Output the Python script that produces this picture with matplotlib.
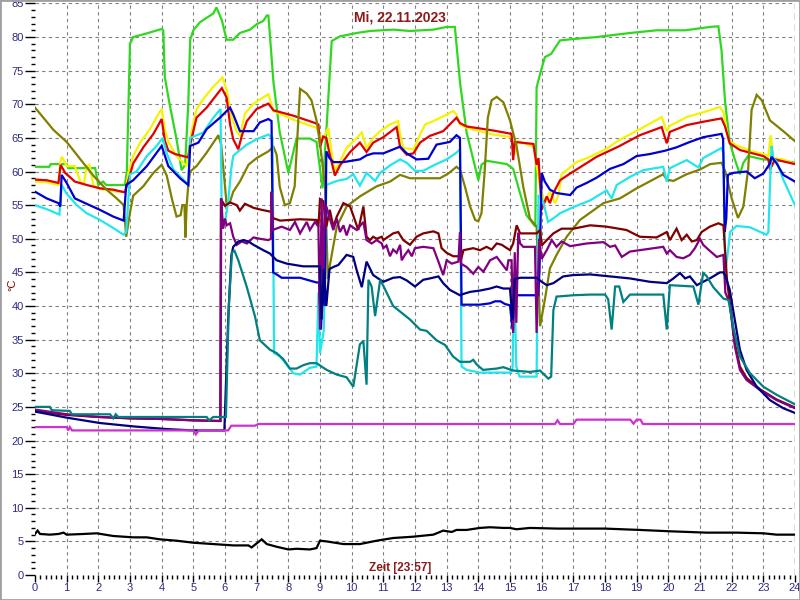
import matplotlib
matplotlib.use("Agg")
import matplotlib.pyplot as plt
from matplotlib.patches import Rectangle
import numpy as np

# (hour, deg C) samples
green = [(0, 60.7), (0.45, 60.7), (0.5, 61.1), (1.0, 61.1), (1.05, 60.5), (1.9, 60.5), (2.0, 58.0), (2.15, 58.5),
         (2.25, 58.0), (2.84, 58.0), (2.9, 60.0), (3.0, 79.0), (3.1, 80.0), (3.5, 80.5), (4.0, 81.2), (4.05, 81.0),
         (4.1, 74.0), (4.26, 69.8), (4.47, 64.8), (4.63, 60.2), (4.74, 61.0), (4.84, 70.0), (4.9, 79.6), (5.0, 81.0),
         (5.21, 82.2), (5.63, 83.5), (5.73, 84.4), (5.9, 82.5), (6.05, 79.6), (6.26, 79.6), (6.47, 80.6), (6.79, 81.1),
         (7.0, 81.9), (7.21, 82.4), (7.32, 83.2), (7.37, 83.2), (7.53, 73.3), (7.73, 65.8), (8.0, 59.8), (8.26, 64.9),
         (8.68, 64.9), (8.89, 64.4), (9.08, 57.5), (9.2, 66.0), (9.37, 79.4), (9.63, 80.1), (10.16, 80.6),
         (10.58, 80.9), (11.31, 81.1), (11.84, 80.9), (12.58, 81.1), (13.0, 81.5), (13.26, 81.5), (13.42, 73.3),
         (13.63, 65.8), (13.84, 61.8), (14.0, 58.7), (14.1, 61.0), (14.26, 61.6), (14.9, 61.1), (15.1, 60.4),
         (15.31, 56.9), (15.52, 53.5), (15.8, 51.8), (15.84, 72.5), (15.95, 74.5), (16.1, 77.0), (16.3, 77.5),
         (16.58, 79.5), (17.0, 79.7), (17.74, 80.0), (18.79, 80.6), (19.63, 81.0), (20.53, 81.0), (21.32, 81.5),
         (21.58, 81.6), (21.68, 78.0), (21.79, 70.5), (21.94, 64.3), (22.1, 61.8), (22.26, 59.6), (22.37, 61.3),
         (22.52, 62.3), (23.0, 61.8), (23.63, 61.6), (24.0, 61.3)]

yellow = [(0, 58.5), (0.37, 58.4), (0.74, 58.0), (0.8, 61.5), (0.85, 62.2), (1.0, 60.8), (1.26, 60.8), (1.45, 58.3),
          (1.55, 58.3), (1.63, 60.8), (1.72, 61.0), (1.84, 58.0), (2.05, 57.4), (2.6, 57.0), (2.86, 57.0), (2.95, 59.8),
          (3.1, 62.3), (3.32, 64.3), (3.63, 66.3), (3.95, 69.0), (4.0, 69.2), (4.1, 66.3), (4.21, 64.4), (4.47, 62.3),
          (4.79, 60.8), (4.9, 65.0), (5.1, 69.2), (5.3, 70.7), (5.63, 72.6), (5.92, 74.0), (6.05, 72.2), (6.2, 68.3),
          (6.37, 65.9), (6.47, 65.3), (6.63, 68.6), (6.9, 70.1), (7.2, 71.0), (7.37, 71.5), (7.53, 69.0), (8.16, 67.7),
          (8.89, 66.5), (9.0, 65.5), (9.05, 64.4), (9.16, 65.5), (9.26, 66.5), (9.37, 62.7), (9.47, 60.1), (9.63, 61.5),
          (9.84, 63.5), (10.16, 65.0), (10.32, 65.8), (10.47, 63.5), (10.68, 65.0), (10.9, 66.0), (11.21, 67.0),
          (11.47, 67.5), (11.53, 65.5), (11.63, 63.5), (11.95, 63.3), (12.16, 65.5), (12.32, 67.0), (12.58, 67.5),
          (12.89, 68.2), (13.21, 69.0), (13.31, 68.5), (13.42, 67.0), (13.63, 66.5), (14.47, 65.5), (15.05, 65.1),
          (15.15, 62.5), (15.25, 64.5), (15.74, 63.7), (15.95, 57.8), (16.1, 55.3), (16.26, 57.0), (16.42, 55.3),
          (16.53, 56.5), (16.63, 59.6), (16.79, 60.2), (17.1, 61.4), (17.53, 62.2), (18.05, 63.4), (18.42, 64.6),
          (19.1, 66.3), (19.79, 68.1), (19.95, 66.0), (20.05, 66.8), (20.58, 68.1), (21.1, 68.8), (21.63, 69.6),
          (21.74, 68.8), (21.9, 64.6), (22.15, 63.9), (22.58, 63.1), (23.0, 62.6), (23.16, 62.3), (23.23, 65.4),
          (23.32, 62.0), (23.63, 61.8), (24.0, 61.1)]

red = [(0, 58.8), (0.37, 58.7), (0.74, 58.3), (0.81, 61.0), (0.95, 59.8), (1.26, 58.5), (1.63, 58.0), (2.05, 57.5),
       (2.47, 57.3), (2.84, 56.9), (2.95, 58.7), (3.1, 61.2), (3.42, 63.6), (3.74, 65.6), (4.0, 67.8), (4.1, 64.6),
       (4.21, 63.1), (4.42, 62.6), (4.84, 62.1), (4.9, 64.0), (5.1, 68.0), (5.42, 69.5), (5.9, 72.4), (6.05, 71.0),
       (6.16, 67.0), (6.26, 64.8), (6.42, 63.3), (6.53, 65.3), (6.69, 67.5), (7.0, 69.3), (7.37, 70.1), (7.53, 69.1),
       (8.16, 68.3), (8.79, 67.3), (8.95, 67.0), (9.0, 63.6), (9.1, 65.2), (9.2, 65.0), (9.3, 62.7), (9.47, 59.4),
       (9.63, 60.9), (9.95, 62.9), (10.26, 64.3), (10.47, 62.9), (10.68, 64.3), (11.0, 65.1), (11.42, 66.6),
       (11.53, 63.6), (11.74, 62.5), (11.95, 62.7), (12.16, 64.3), (12.47, 65.3), (12.89, 66.0), (13.31, 68.0),
       (13.42, 67.2), (13.63, 66.7), (14.47, 66.1), (15.05, 65.6), (15.1, 61.7), (15.15, 64.4), (15.74, 64.1),
       (15.84, 61.0), (15.9, 62.0), (16.0, 54.3), (16.16, 56.3), (16.26, 55.3), (16.37, 56.8), (16.58, 58.7),
       (16.9, 59.7), (17.74, 62.2), (18.42, 63.7), (19.1, 65.4), (19.79, 66.6), (19.95, 64.2), (20.05, 65.9),
       (20.58, 66.9), (21.1, 67.4), (21.68, 67.9), (21.79, 66.7), (21.94, 64.2), (22.26, 63.2), (22.58, 62.8),
       (23.0, 62.3), (23.16, 61.8), (23.21, 60.3), (23.37, 61.8), (23.63, 61.5), (24.0, 61.1)]

blue = [(0, 57.0), (0.37, 56.0), (0.74, 55.3), (0.8, 54.8), (0.84, 59.5), (1.0, 58.3), (1.26, 56.0), (1.63, 55.2),
        (2.05, 54.3), (2.47, 53.3), (2.8, 52.7), (2.88, 58.0), (3.1, 58.7), (3.53, 60.8), (4.0, 63.8), (4.21, 60.8),
        (4.58, 59.0), (4.84, 58.0), (4.9, 63.8), (5.16, 64.3), (5.42, 66.3), (5.84, 68.0), (6.16, 69.5), (6.26, 68.5),
        (6.47, 66.0), (6.9, 66.0), (7.1, 67.3), (7.37, 67.8), (7.47, 67.5), (7.52, 45.0), (7.63, 44.7), (7.79, 44.2),
        (8.37, 44.2), (8.89, 43.5), (8.97, 43.5), (9.03, 36.5), (9.1, 45.0), (9.15, 40.0), (9.2, 63.0), (9.3, 62.0),
        (9.42, 61.4), (9.74, 61.4), (10.26, 61.8), (10.47, 62.4), (10.68, 62.7), (11.0, 62.7), (11.53, 63.7),
        (11.74, 62.7), (12.05, 61.8), (12.42, 61.9), (12.68, 64.0), (13.1, 64.4), (13.31, 65.4), (13.42, 65.0),
        (13.47, 40.2), (14.05, 40.2), (14.37, 40.4), (14.53, 40.7), (14.7, 40.7), (14.84, 40.3), (15.0, 40.1),
        (15.08, 36.5), (15.15, 42.0), (15.2, 41.6), (15.89, 41.6), (15.93, 45.0), (16.0, 59.8), (16.1, 58.5),
        (16.26, 57.3), (16.47, 56.8), (16.9, 56.5), (17.1, 57.6), (17.42, 58.3), (17.74, 59.1), (18.16, 60.4),
        (18.58, 61.1), (19.0, 62.3), (19.42, 62.6), (19.9, 63.1), (20.26, 63.6), (20.68, 64.4), (21.1, 65.1),
        (21.68, 65.6), (21.73, 64.8), (21.78, 51.0), (21.83, 53.0), (21.88, 59.5), (22.05, 59.8), (22.47, 60.0),
        (22.73, 59.0), (23.0, 59.7), (23.21, 61.2), (23.26, 62.2), (23.42, 61.2), (23.63, 59.5), (24.0, 58.5)]

cyan = [(0, 55.0), (0.37, 54.4), (0.77, 53.6), (0.84, 58.0), (1.0, 56.7), (1.32, 55.0), (1.63, 53.8), (2.05, 52.8),
        (2.47, 51.6), (2.8, 50.6), (2.88, 51.0), (3.0, 59.6), (3.21, 60.0), (3.53, 62.3), (3.84, 63.8), (4.03, 65.0),
        (4.16, 62.7), (4.37, 60.3), (4.68, 58.8), (4.84, 58.0), (4.9, 65.0), (5.32, 65.8), (5.63, 68.0), (5.86, 69.3),
        (5.9, 51.5), (6.0, 52.5), (6.1, 55.5), (6.2, 60.5), (6.26, 62.3), (6.37, 62.8), (6.69, 64.0), (7.0, 64.8),
        (7.37, 65.5), (7.5, 65.0), (7.55, 33.0), (7.74, 32.5), (8.16, 30.0), (8.37, 29.8), (8.68, 30.8), (8.89, 31.0),
        (8.95, 42.0), (9.0, 33.0), (9.12, 36.4), (9.2, 58.0), (9.53, 58.6), (9.84, 58.9), (10.05, 59.6),
        (10.26, 57.9), (10.47, 59.8), (10.74, 58.6), (10.9, 59.8), (11.21, 60.9), (11.53, 61.8), (11.74, 61.3),
        (12.0, 60.1), (12.26, 60.1), (12.58, 60.9), (13.0, 61.8), (13.31, 62.8), (13.42, 63.3), (13.47, 31.0),
        (13.63, 30.5), (14.05, 30.1), (15.0, 30.1), (15.08, 30.5), (15.13, 45.0), (15.2, 31.0), (15.3, 29.5),
        (15.84, 29.5), (15.9, 56.5), (16.05, 55.5), (16.2, 52.5), (16.42, 53.2), (16.58, 53.8), (17.0, 54.7),
        (17.53, 55.7), (18.05, 57.2), (18.21, 56.0), (18.37, 58.0), (18.79, 59.2), (19.21, 60.2), (19.84, 60.7),
        (19.95, 58.5), (20.05, 60.5), (20.58, 61.7), (20.95, 60.6), (21.1, 62.0), (21.68, 63.5), (21.74, 62.8),
        (21.8, 45.0), (21.88, 48.0), (21.95, 51.0), (22.15, 51.9), (22.58, 51.7), (23.1, 50.6), (23.16, 51.0),
        (23.21, 58.0), (23.26, 63.8), (23.31, 62.0), (23.42, 61.5), (23.63, 58.8), (24.0, 55.0)]

olive = [(0, 69.5), (0.16, 68.6), (0.58, 66.2), (1.0, 64.4), (1.42, 61.9), (1.84, 59.4), (2.26, 57.3), (2.58, 56.0),
         (2.8, 55.0), (2.88, 50.3), (3.0, 53.9), (3.1, 56.4), (3.42, 57.8), (3.74, 59.8), (4.0, 61.0), (4.16, 59.4),
         (4.32, 56.0), (4.47, 53.3), (4.6, 53.5), (4.65, 55.0), (4.72, 55.0), (4.75, 50.2), (4.79, 55.0),
         (4.84, 58.0), (4.9, 60.0), (5.1, 60.8), (5.42, 62.8), (5.79, 65.4), (5.88, 64.0), (6.05, 55.2), (6.16, 55.5),
         (6.26, 57.0), (6.47, 58.5), (6.74, 61.0), (7.0, 62.0), (7.37, 63.0), (7.53, 63.7), (7.63, 62.5),
         (7.73, 57.7), (7.89, 55.0), (8.05, 55.3), (8.2, 57.8), (8.37, 72.3), (8.58, 71.6), (8.73, 70.6),
         (8.89, 67.6), (9.0, 64.2), (9.16, 57.8), (9.25, 44.0), (9.32, 46.3), (9.53, 51.8), (9.84, 54.8),
         (10.26, 56.3), (10.79, 57.8), (11.21, 58.5), (11.53, 59.5), (11.84, 59.0), (12.79, 59.0), (13.05, 59.7),
         (13.31, 60.7), (13.42, 60.3), (13.58, 57.7), (13.74, 54.8), (13.9, 52.8), (14.0, 52.6), (14.1, 53.8),
         (14.2, 60.0), (14.3, 68.0), (14.42, 70.6), (14.58, 71.1), (14.79, 70.3), (15.0, 67.6), (15.21, 63.7),
         (15.42, 57.7), (15.63, 53.0), (15.84, 51.8), (15.95, 37.0), (16.11, 41.2), (16.26, 45.6), (16.47, 47.6),
         (16.79, 50.3), (17.21, 52.8), (17.95, 55.3), (18.47, 56.0), (19.0, 57.5), (19.84, 59.6), (19.95, 58.8),
         (20.16, 58.6), (20.58, 59.6), (21.0, 60.3), (21.32, 61.1), (21.68, 61.3), (21.8, 60.0), (22.0, 56.0),
         (22.2, 53.1), (22.37, 54.8), (22.52, 60.3), (22.63, 69.2), (22.79, 71.4), (22.95, 70.6), (23.21, 67.6),
         (23.63, 66.0), (24.0, 64.5)]

maroon = [(0, 24.4), (1.0, 23.8), (2.0, 23.5), (3.0, 23.3), (4.0, 23.2), (5.0, 23.0), (5.85, 22.9), (5.87, 55.9),
          (6.0, 54.9), (6.16, 55.4), (6.37, 55.0), (6.47, 54.2), (6.63, 55.2), (6.9, 54.6), (7.16, 54.3),
          (7.47, 54.0), (7.5, 53.1), (7.74, 52.7), (8.05, 52.8), (8.37, 52.9), (8.89, 52.8), (8.95, 51.8),
          (9.0, 55.9), (9.1, 55.6), (9.2, 51.8), (9.31, 54.3), (9.42, 51.8), (9.53, 53.3), (9.74, 55.3),
          (9.95, 54.8), (10.1, 52.8), (10.21, 51.3), (10.37, 54.8), (10.47, 50.3), (10.58, 49.8), (10.68, 50.3),
          (10.79, 50.0), (10.95, 50.3), (11.0, 49.8), (11.31, 50.8), (11.47, 51.0), (11.63, 49.8), (11.84, 49.1),
          (12.05, 50.3), (12.26, 50.8), (12.58, 51.1), (12.74, 50.8), (12.84, 48.6), (13.0, 47.9), (13.21, 47.4),
          (13.37, 47.4), (13.45, 46.8), (13.53, 48.3), (13.84, 48.6), (14.05, 48.3), (14.26, 48.8), (14.42, 48.4),
          (14.58, 49.3), (14.74, 49.1), (15.0, 48.3), (15.1, 49.3), (15.21, 52.0), (15.32, 50.8), (15.84, 50.8),
          (15.95, 51.3), (16.0, 49.0), (16.16, 49.8), (16.37, 50.8), (16.63, 51.5), (17.0, 51.5), (17.53, 52.0),
          (18.05, 51.8), (18.68, 51.3), (19.1, 50.3), (19.63, 50.2), (19.95, 51.0), (20.05, 49.8), (20.26, 51.5),
          (20.42, 49.8), (20.58, 50.6), (20.74, 49.6), (20.9, 49.8), (21.05, 51.0), (21.31, 51.8), (21.58, 52.3),
          (21.74, 52.0), (21.85, 44.0), (21.94, 40.5), (22.1, 34.5), (22.26, 31.0), (22.47, 29.3), (22.9, 27.6),
          (23.42, 26.1), (24.0, 24.9)]

purple = [(0, 24.6), (1.0, 23.9), (2.0, 23.5), (3.0, 23.3), (4.0, 23.2), (5.0, 23.0), (5.86, 22.9), (5.88, 56.0),
          (5.94, 51.5), (6.0, 53.0), (6.05, 52.0), (6.16, 52.3), (6.26, 50.3), (6.37, 49.1), (6.53, 49.6),
          (6.69, 49.3), (6.9, 50.2), (7.1, 50.0), (7.37, 49.8), (7.45, 50.0), (7.47, 57.0), (7.5, 51.3),
          (7.79, 51.8), (8.05, 51.3), (8.21, 52.5), (8.37, 50.8), (8.58, 52.5), (8.68, 51.3), (8.84, 52.5),
          (8.95, 51.8), (9.0, 36.5), (9.05, 56.0), (9.1, 43.0), (9.15, 55.0), (9.2, 54.8), (9.31, 53.0),
          (9.42, 51.3), (9.53, 53.0), (9.63, 51.0), (9.74, 52.0), (9.84, 50.5), (9.95, 52.0), (10.16, 51.3),
          (10.37, 52.5), (10.47, 49.8), (10.63, 49.3), (10.79, 49.8), (10.95, 49.3), (11.0, 48.6), (11.1, 49.0),
          (11.21, 47.4), (11.31, 48.4), (11.42, 47.9), (11.53, 49.1), (11.58, 46.8), (11.68, 47.6), (11.79, 48.3),
          (11.9, 47.4), (12.0, 48.6), (12.26, 48.8), (12.58, 48.6), (12.74, 46.6), (12.89, 44.6), (13.0, 46.8),
          (13.16, 46.3), (13.37, 46.6), (13.42, 51.0), (13.45, 46.3), (13.63, 45.8), (13.84, 44.8), (14.0, 45.8),
          (14.16, 45.1), (14.37, 46.8), (14.58, 47.3), (14.74, 46.3), (14.9, 45.3), (14.95, 46.8), (15.05, 46.8),
          (15.1, 36.0), (15.15, 48.0), (15.2, 37.5), (15.26, 50.9), (15.32, 49.3), (15.42, 48.8), (15.79, 48.8),
          (15.84, 36.0), (15.92, 50.0), (16.0, 47.0), (16.16, 48.3), (16.32, 49.8), (16.47, 48.8), (16.63, 49.6),
          (16.9, 48.9), (17.42, 49.3), (17.95, 49.5), (18.16, 48.8), (18.32, 49.0), (18.53, 47.3), (18.79, 48.1),
          (19.84, 48.8), (19.95, 47.8), (20.05, 48.3), (20.26, 47.3), (20.47, 47.1), (20.68, 47.6), (20.84, 48.6),
          (21.0, 50.0), (21.1, 49.1), (21.31, 48.2), (21.53, 47.3), (21.74, 47.6), (21.8, 42.0), (21.94, 40.4),
          (22.1, 34.0), (22.26, 30.5), (22.47, 29.0), (22.9, 27.5), (23.42, 26.0), (24.0, 24.8)]

navy = [(0, 24.3), (1.0, 23.4), (2.05, 22.6), (3.1, 22.1), (4.16, 21.7), (5.0, 21.5), (5.98, 21.5), (6.1, 38.0),
        (6.2, 47.5), (6.26, 48.8), (6.42, 49.6), (6.58, 49.8), (6.74, 49.6), (6.9, 49.1), (7.21, 48.3),
        (7.42, 47.8), (7.63, 46.8), (7.95, 46.3), (8.47, 45.9), (9.0, 45.9), (9.05, 38.0), (9.12, 45.5),
        (9.2, 40.0), (9.3, 45.5), (9.42, 45.8), (9.58, 46.1), (9.84, 47.6), (10.05, 47.3), (10.16, 45.3),
        (10.32, 42.8), (10.47, 46.6), (10.68, 44.6), (10.9, 43.9), (11.0, 43.6), (11.31, 44.2), (11.53, 44.3),
        (11.74, 43.8), (12.0, 42.9), (12.26, 43.9), (12.47, 44.1), (12.74, 44.4), (12.89, 43.4), (13.1, 42.4),
        (13.42, 41.6), (13.53, 41.8), (13.74, 42.1), (14.05, 42.3), (14.37, 42.6), (14.58, 42.9), (14.79, 42.6),
        (15.0, 42.6), (15.08, 38.0), (15.15, 44.0), (15.32, 44.2), (15.84, 44.2), (16.0, 43.6), (16.16, 43.1),
        (16.37, 43.4), (16.68, 44.4), (17.0, 44.6), (17.53, 44.7), (18.16, 44.4), (18.79, 44.1), (19.42, 43.6),
        (19.95, 43.4), (20.16, 44.1), (20.37, 44.9), (20.53, 44.1), (20.68, 44.4), (20.9, 43.1), (21.1, 43.6),
        (21.31, 44.1), (21.63, 45.0), (21.74, 45.0), (21.8, 44.5), (21.94, 42.4), (22.1, 37.9), (22.26, 33.5),
        (22.47, 30.5), (22.79, 28.0), (23.21, 26.0), (23.63, 24.8), (24.0, 24.1)]

teal = [(0, 25.0), (0.47, 25.0), (0.53, 24.5), (1.1, 24.4), (1.16, 23.9), (2.37, 23.9), (2.47, 23.3), (2.55, 23.9),
        (2.63, 23.5), (5.42, 23.5), (5.5, 23.0), (5.63, 23.5), (6.03, 23.5), (6.12, 40.0), (6.22, 48.0),
        (6.3, 48.2), (6.42, 46.8), (6.69, 42.8), (6.95, 38.4), (7.1, 34.9), (7.42, 33.5), (7.63, 33.0),
        (7.84, 32.1), (8.05, 30.7), (8.26, 30.7), (8.47, 31.2), (8.68, 31.5), (8.89, 31.5), (9.05, 31.0),
        (9.21, 30.5), (9.53, 29.8), (9.84, 29.4), (10.05, 28.0), (10.26, 34.3), (10.37, 34.8), (10.47, 28.3),
        (10.53, 43.9), (10.63, 42.9), (10.74, 38.5), (10.9, 43.9), (11.0, 43.0), (11.31, 40.0), (11.84, 38.0),
        (12.16, 36.5), (12.37, 36.3), (12.68, 34.9), (12.95, 34.2), (13.2, 32.5), (13.42, 31.7), (13.74, 31.7),
        (13.84, 32.0), (13.95, 31.3), (14.15, 30.5), (14.58, 30.7), (14.79, 30.9), (15.1, 30.4), (15.63, 30.2),
        (15.95, 30.4), (16.21, 29.2), (16.3, 29.5), (16.37, 39.4), (16.47, 41.4), (17.0, 41.6), (17.53, 41.7),
        (18.0, 41.7), (18.1, 41.0), (18.21, 36.5), (18.32, 42.9), (18.45, 42.9), (18.58, 40.6), (18.79, 41.7),
        (19.84, 41.7), (19.95, 36.5), (20.05, 43.1), (20.79, 42.9), (20.95, 40.2), (21.1, 44.9), (21.2, 44.5),
        (21.42, 42.8), (21.74, 41.1), (21.9, 40.9), (22.05, 36.9), (22.26, 32.5), (22.58, 30.0), (23.0, 28.0),
        (23.42, 26.8), (23.95, 25.5), (24.0, 25.4)]

magenta = [(0, 22.0), (1.0, 22.0), (1.05, 21.5), (1.1, 22.0), (1.17, 21.5), (5.0, 21.5), (5.08, 20.9), (5.17, 21.5),
           (6.1, 21.5), (6.2, 22.2), (6.95, 22.2), (7.05, 22.45), (16.42, 22.45), (16.5, 23.0), (16.58, 22.45),
           (17.0, 22.45), (17.1, 23.1), (18.8, 23.1), (18.9, 22.5), (19.0, 23.1), (19.12, 23.1), (19.2, 22.45),
           (24.0, 22.45)]

black = [(0, 6.1), (0.08, 6.6), (0.16, 6.1), (0.47, 6.0), (0.74, 6.1), (0.9, 6.3), (1.0, 6.0), (1.53, 6.1),
         (1.95, 6.2), (2.47, 5.8), (3.1, 5.6), (3.53, 5.6), (3.95, 5.3), (4.47, 5.1), (5.0, 4.8), (5.63, 4.6),
         (6.26, 4.4), (6.74, 4.4), (6.84, 4.1), (7.16, 5.3), (7.32, 4.6), (7.63, 4.2), (8.0, 3.8), (8.26, 3.9),
         (8.68, 3.8), (8.89, 4.0), (9.0, 5.1), (9.2, 5.0), (9.74, 4.6), (10.26, 4.6), (10.79, 5.1), (11.31, 5.5),
         (11.95, 5.7), (12.58, 6.0), (12.89, 6.6), (13.16, 6.4), (13.31, 6.7), (13.63, 6.7), (14.05, 7.0),
         (14.37, 7.1), (14.79, 7.0), (15.0, 7.0), (15.2, 6.8), (15.63, 7.0), (16.5, 6.9), (17.0, 6.9), (18.0, 6.9),
         (19.1, 6.7), (20.05, 6.5), (21.2, 6.3), (22.15, 6.3), (23.0, 6.2), (23.42, 6.0), (24.0, 6.0)]

series = [(green, '#2fd81f'), (yellow, '#f4f400'), (red, '#e00000'), (olive, '#808000'),
          (cyan, '#22e6ee'), (blue, '#0000d0'), (maroon, '#800000'), (purple, '#800080'),
          (navy, '#000080'), (teal, '#008080'), (magenta, '#d030d0'), (black, '#000000')]

date_label = "Mi, 22.11.2023"
time_label = "Zeit [23:57]"

plt.rcParams['font.family'] = ['Liberation Sans', 'DejaVu Sans']

fig = plt.figure(figsize=(8, 6), dpi=100)
ax = fig.add_axes([35/800, 25/600, 760/800, 571.6/600])

for pts, col in series:
    arr = np.array(pts)
    ax.plot(arr[:, 0], arr[:, 1], color=col, lw=1.6, solid_joinstyle='miter')

ax.set_xlim(0, 24)
ax.set_ylim(0, 85)

# dashed grid, no line at x=0, dark green marker at end of day
for h in range(1, 24):
    ax.axvline(h, color='#808080', lw=0.8, ls=(0, (3, 3)), zorder=0)
for v in range(5, 86, 5):
    ax.axhline(v, color='#808080', lw=0.8, ls=(0, (3, 3)), zorder=0)
ax.axvline(24, color='#008000', lw=1.0, ls=(0, (5, 3)), zorder=0)

for s in ax.spines.values():
    s.set_visible(False)

ax.set_xticks(np.arange(0, 25, 1))
ax.set_xticks(np.arange(0, 24.01, 1/6), minor=True)
ax.set_yticks(np.arange(0, 86, 5))
ax.set_yticks(np.arange(0, 86, 1), minor=True)
ax.tick_params(axis='y', which='major', length=7, width=1, direction='out', pad=1,
               labelsize=8, labelcolor='#2b2b80')
ax.tick_params(axis='y', which='minor', length=3, width=1, direction='out')
ax.tick_params(axis='x', which='major', length=5, width=1, direction='out', pad=1,
               labelsize=8, labelcolor='#2b2b80')
ax.tick_params(axis='x', which='minor', length=3, width=1, direction='out')

fig.text(12/800, 1 - 285/600, "°C", rotation=90, ha='center', va='center', fontsize=8, color='#800000')
fig.text(0.5, 1 - 17/600, date_label, ha='center', va='center', fontsize=10, fontweight='bold', color='#8b1a1a')
fig.text(0.5, 1 - 568/600, time_label, ha='center', va='center', fontsize=8.5, fontweight='bold', color='#8b1a1a')

# thin grey frame round the whole picture
fig.patches.append(Rectangle((0, 0), 1, 1, transform=fig.transFigure, fill=False,
                             edgecolor='#a0a0a0', lw=2))

fig.savefig('out.png', dpi=100)
